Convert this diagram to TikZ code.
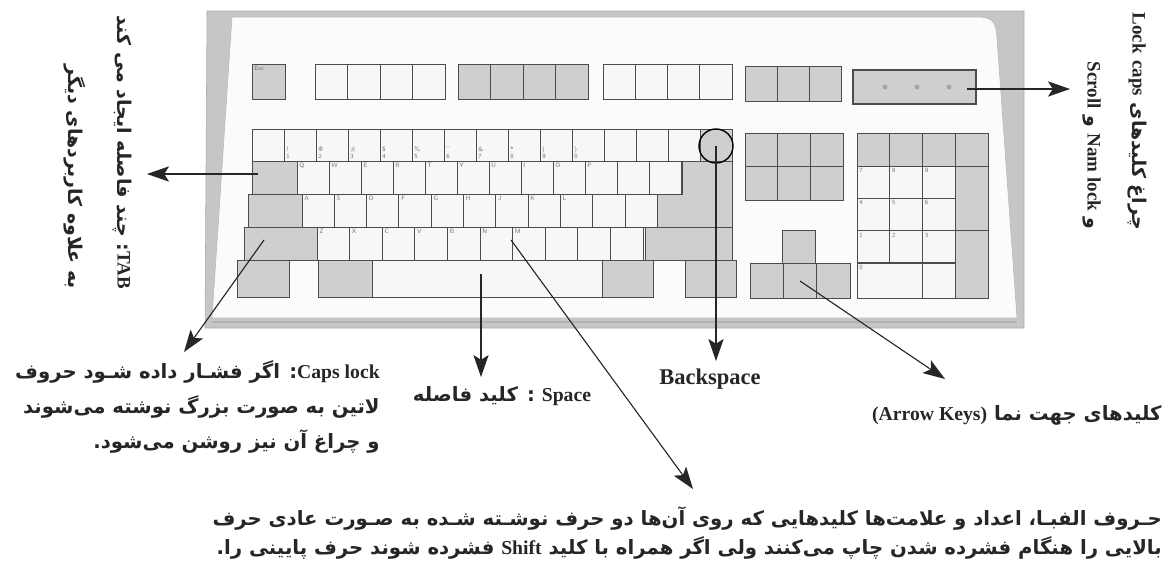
\documentclass[tikz,border=0pt]{standalone}
\usepackage{fontspec}
\setmainfont{Liberation Serif}
\newfontfamily\fa[Script=Arabic]{DejaVu Sans}
\usetikzlibrary{arrows.meta}
\TeXXeTstate=1
\newcommand\latw[1]{{\rmfamily\bfseries #1}}

\begin{document}
\begin{tikzpicture}[x=0.025cm,y=-0.025cm,>={Stealth[length=5.5mm,width=3.8mm,inset=1.2mm]},
    lkey/.style={draw=black!70,fill=gray!6,line width=0.7pt},
    dkey/.style={draw=black!70,fill=gray!38,line width=0.7pt},
    klab/.style={font=\fontsize{4.5}{5}\selectfont\sffamily,text=black!55,inner sep=1.5pt},
    arr/.style={->,line width=0.8pt,black!85},
    fatxt/.style={font=\fa\bfseries\fontsize{14}{25}\selectfont,text=black!85,align=right,inner sep=0pt}]
  \useasboundingbox (0,0) rectangle (1171,579);
  \fill[gray!45,draw=gray!65] (207,11) -- (1024,11) -- (1024,328) -- (205,328) -- cycle;
  \fill[gray!3,draw=gray!55] (232,17) -- (978,17) .. controls (994,17) and (996,24) .. (997,38) -- (1017,318) -- (212,318) -- cycle;
  \draw[gray!60,line width=1.2pt] (212,322) -- (1017,322);
  % function row
  \draw[dkey] (252,64) rectangle (285,99);
  \node[klab,anchor=north west] (esc) at (252,64) {Esc};
  \foreach \i in {0,...,3} {
    \draw[lkey] ({315+32.5*\i},64) rectangle ++(32.5,35);
    \draw[dkey] ({458+32.5*\i},64) rectangle ++(32.5,35);
    \draw[lkey] ({603+32.25*\i},64) rectangle ++(32.25,35);
  }
  \foreach \i in {0,1,2} \draw[dkey] ({745+32.3*\i},66) rectangle ++(32.3,35);
  \draw[dkey,line width=1.2pt] (853,70) rectangle (976,104);
  \foreach \i in {0,1,2} \fill[gray!70] ({885+32*\i},87) circle[radius=2.5];
  % main block
  \foreach \i in {0,...,13} \draw[lkey] ({252+32*\i},129) rectangle ++(32,32);
  \draw[dkey] (700,129) rectangle (732,161);
  \foreach \t/\s [count=\i] in {1/!,2/@,3/\#,4/\$,5/\%,6/\textasciicircum,7/\&,8/*,9/(,0/)}
    \node[klab,anchor=south west,align=left] (n\i) at ({252+32*\i},161) {\s\\\t};
  \draw[dkey] (252,161) rectangle (297,194);
  \foreach \i in {0,...,11} \draw[lkey] ({297+32*\i},161) rectangle ++(32,33);
  \foreach \t [count=\i from 0] in {Q,W,E,R,T,Y,U,I,O,P}
    \node[klab,anchor=north west] (q\i) at ({297+32*\i},161) {\t};
  \draw[dkey] (248,194) rectangle (302,227);
  \foreach \i in {0,...,10} \draw[lkey] ({302+32.3*\i},194) rectangle ++(32.3,33);
  \foreach \t [count=\i from 0] in {A,S,D,F,G,H,J,K,L}
    \node[klab,anchor=north west] (a\i) at ({302+32.3*\i},194) {\t};
  \draw[dkey] (682,161) -- (732,161) -- (732,227) -- (657,227) -- (657,194) -- (682,194) -- cycle;
  \draw[dkey] (244,227) rectangle (317,260);
  \foreach \i in {0,...,9} \draw[lkey] ({317+32.6*\i},227) rectangle ++(32.6,33);
  \foreach \t [count=\i from 0] in {Z,X,C,V,B,N,M}
    \node[klab,anchor=north west] (z\i) at ({317+32.6*\i},227) {\t};
  \draw[dkey] (645,227) rectangle (732,260);
  \draw[dkey] (237,260) rectangle (289,297);
  \draw[dkey] (318,260) rectangle (372,297);
  \draw[lkey] (372,260) rectangle (602,297);
  \draw[dkey] (602,260) rectangle (653,297);
  \draw[dkey] (685,260) rectangle (736,297);
  % navigation and arrows
  \foreach \c in {0,1,2} \foreach \r in {0,1}
    \draw[dkey] ({745+32.7*\c},{133+33.5*\r}) rectangle ++(32.7,33.5);
  \draw[dkey] (782,230) rectangle (815,263);
  \draw[dkey] (750,263) rectangle (783,298);
  \draw[dkey] (783,263) rectangle (816,298);
  \draw[dkey] (816,263) rectangle (850,298);
  % numeric pad
  \foreach \c in {0,...,3} \draw[dkey] ({857+32.75*\c},133) rectangle ++(32.75,33);
  \foreach \c in {0,1,2} \foreach \r in {0,1,2}
    \draw[lkey] ({857+32.75*\c},{166+32.3*\r}) rectangle ++(32.75,32.3);
  \foreach \t/\c/\r [count=\i] in {7/0/0,8/1/0,9/2/0,4/0/1,5/1/1,6/2/1,1/0/2,2/1/2,3/2/2}
    \node[klab,anchor=north west] (p\i) at ({857+32.75*\c},{166+32.3*\r}) {\t};
  \draw[dkey] (955.25,166) rectangle (988,230);
  \draw[dkey] (955.25,230) rectangle (988,298);
  \draw[lkey] (857,263) rectangle (922.5,298);
  \node[klab,anchor=north west] (p0) at (857,263) {0};
  \draw[lkey] (922.5,263) rectangle (955.25,298);
  \node[draw,circle,line width=1pt,minimum size=0.85cm,inner sep=0pt] (bkring) at (716,146) {};
  % labels
  \node[fatxt,rotate=-90,anchor=east,font=\fa\bfseries\fontsize{13.5}{35}\selectfont] (tabtxt) at (98,289)
    {\beginR\latw{TAB}: چند فاصله ایجاد می کند\endR\\\beginR به علاوه کاربردهای دیگر\endR};
  \node[fatxt,rotate=-90,anchor=east,font=\fa\bfseries\fontsize{13.5}{32}\selectfont] (ledtxt) at (1115,230)
    {\beginR چراغ کلیدهای \latw{caps} \latw{Lock}\endR\\\beginR و \beginL\latw{Nam lock}\endL{} و \latw{Scroll}\endR};
  \node[fatxt,anchor=east] (capstxt) at (380,407)
    {\beginR\beginL\latw{Caps lock}\endL: اگر فشـار داده شـود حروف\endR\\
     \beginR لاتین به صورت بزرگ  نوشته می‌شوند\endR\\
     \beginR و چراغ آن نیز روشن می‌شود.\endR};
  \node[fatxt] (spctxt) at (502,396) {\beginR\latw{Space} : کلید فاصله\endR};
  \node[font=\rmfamily\bfseries\fontsize{16}{16}\selectfont,text=black!85] (bstxt) at (710,379) {Backspace};
  \node[fatxt,anchor=east] (aktxt) at (1162,415)
    {\beginR کلیدهای جهت نما \beginL\latw{(Arrow Keys)}\endL\endR};
  \node[fatxt,anchor=east,font=\fa\bfseries\fontsize{14}{21.3}\selectfont] (alphatxt) at (1162,533)
    {\beginR حـروف الفبـا، اعداد و علامت‌ها کلیدهایی که روی آن‌ها دو حرف نوشـته شـده به صـورت عادی حرف\endR\\
     \beginR بالایی را هنگام فشرده شدن چاپ می‌کنند ولی اگر همراه با کلید \latw{Shift} فشرده شوند حرف پایینی را.\endR};
  % arrows
  \coordinate (tabk) at (258,174);   \coordinate (tabtip) at (147,174);
  \coordinate (shk) at (264,240);    \coordinate (capstip) at (184,352);
  \coordinate (spk) at (481,274);    \coordinate (spctip) at (481,377);
  \coordinate (nk) at (511,240);     \coordinate (alphatip) at (693,489);
  \coordinate (bktip) at (716,361);
  \coordinate (dnk) at (800,281);    \coordinate (aktip) at (945,379);
  \coordinate (ledk) at (967,89);    \coordinate (ledtip) at (1070,89);
  \draw[arr] (tabk) -- (tabtip);
  \draw[arr] (shk) -- (capstip);
  \draw[arr] (spk) -- (spctip);
  \draw[arr] (nk) -- (alphatip);
  \draw[arr] (bkring.center) -- (bktip);
  \draw[arr] (dnk) -- (aktip);
  \draw[arr] (ledk) -- (ledtip);
\end{tikzpicture}
\end{document}
